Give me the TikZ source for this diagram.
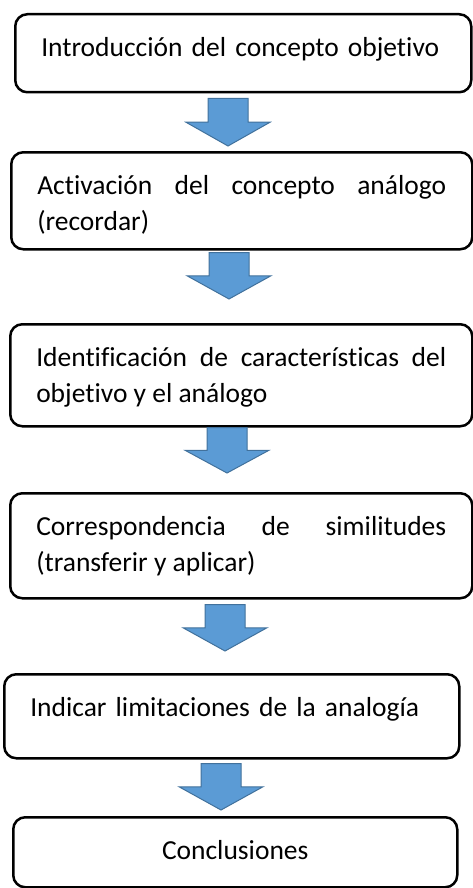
\documentclass[tikz,border=0pt]{standalone}
\usepackage{fontspec}
\setmainfont{Carlito}[Ligatures=NoCommon]
\usetikzlibrary{calc}
\definecolor{arrowfill}{RGB}{91,155,213}
\definecolor{arrowline}{RGB}{65,113,156}
\hyphenpenalty=10000
\tolerance=10000
% block arrow between two steps: from, to, x, top gap, bottom gap
\newcommand{\flowarrow}[5]{%
  \draw[blockarrow] let \p1=($(#3,0 |- #1.south)+(0,#4)$), \p2=($(#3,0 |- #2.north)-(0,#5)$),
      \p3=($(\p1)!0.5!(\p2)$) in
    ({\x1-20pt},\y1) -- ({\x1+20pt},\y1) -- ({\x1+20pt},\y3) -- ({\x1+42pt},\y3)
    -- (\x1,\y2) -- ({\x1-42pt},\y3) -- ({\x1-20pt},\y3) -- cycle;}
\begin{document}
\begin{tikzpicture}[x=1pt,y=-1pt,
    stepbox/.style={draw, line width=2.5pt, rounded corners=12pt, anchor=north west,
      inner xsep=26pt, inner ysep=0pt, text height=42pt,
      font=\fontsize{27.5}{36}\selectfont},
    blockarrow/.style={fill=arrowfill, draw=arrowline, line width=1pt}]
    \useasboundingbox (0,0) rectangle (472,888);
    % Draw the steps
    \node[stepbox, text width=404pt, align=left, text depth=36pt] (intro) at (14,13)
        {Introducción del concepto objetivo};
    \node[stepbox, text width=409pt, align=justify, text depth=55pt] (activation) at (10,151)
        {Activación del concepto análogo (recordar)};
    \node[stepbox, text width=410pt, align=justify, text depth=60pt] (identify) at (9,323)
        {Identificación de características del objetivo y el análogo};
    \node[stepbox, text width=410pt, align=justify, text depth=63pt] (match) at (9,492)
        {Correspondencia de similitudes (transferir y aplicar)};
    \node[stepbox, text width=403pt, align=left, text depth=42pt] (limits) at (3,673)
        {Indicar limitaciones de la analogía};
    \node[stepbox, text width=392pt, align=center, text depth=28pt] (conclude) at (12,816)
        {Conclusiones};
    % Draw the arrows
    \foreach \a/\b/\pos/\g/\h in {intro/activation/228/5/5, activation/identify/229/2/24,
        identify/match/227/0/19, match/limits/225/5/22, limits/conclude/221/4/6}
        \flowarrow{\a}{\b}{\pos}{\g}{\h};
\end{tikzpicture}
\end{document}
